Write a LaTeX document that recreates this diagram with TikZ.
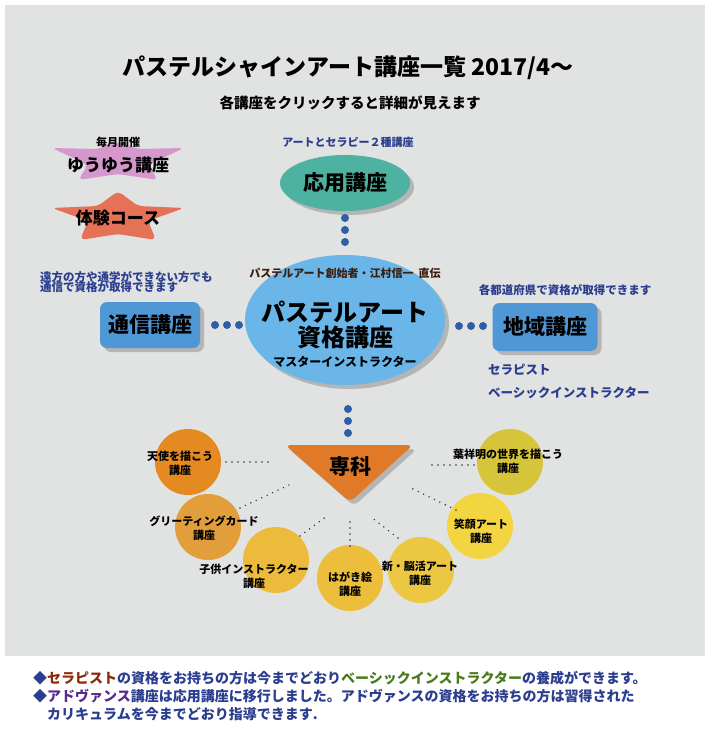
\documentclass[tikz,border=0pt]{standalone}
\usepackage{fontspec}
\setmainfont{Noto Sans CJK JP}
\usetikzlibrary{shadows,shapes.geometric}
\definecolor{bg}{HTML}{E1E2E2}
\definecolor{dotb}{HTML}{2F5DA8}
\definecolor{txtb}{HTML}{2A3D8F}
\definecolor{boxb}{HTML}{4F97D5}
\definecolor{starp}{RGB}{214,152,204}
\definecolor{staro}{RGB}{229,113,86}
\definecolor{teal}{RGB}{77,179,160}
\definecolor{mainb}{RGB}{106,182,232}
\definecolor{brn}{RGB}{60,30,15}
\definecolor{tri}{RGB}{224,122,40}
\definecolor{cA}{RGB}{229,138,32}
\definecolor{cB}{RGB}{226,158,58}
\definecolor{cC}{RGB}{237,187,60}
\definecolor{cD}{RGB}{237,190,60}
\definecolor{cE}{RGB}{235,199,66}
\definecolor{cF}{RGB}{242,213,64}
\definecolor{cG}{RGB}{214,196,58}
\definecolor{fr}{HTML}{8B2A0A}
\definecolor{fg}{HTML}{4A7A1E}
\definecolor{fp}{HTML}{5A2A8A}
\tikzset{
  fs/.style={font=\fontsize{#1}{#1}\selectfont\bfseries},
  lbl/.style={inner sep=0pt, text=black},
  blu/.style={inner sep=0pt, text=txtb, align=left},
  sh/.style={drop shadow={shadow xshift=4pt, shadow yshift=-4pt, opacity=0.45}},
  bdot/.style={fill=dotb, circle, inner sep=0pt, minimum size=8pt},
  circ/.style={circle, minimum size=66pt, inner sep=0pt, fill=#1},
  con/.style={line width=1.6pt, black!80, line cap=round, dash pattern=on 0pt off 6pt},
  box/.style={rounded corners=7pt, fill=boxb, minimum width=100pt, minimum height=46pt, sh},
  star/.style={fill=#1, rounded corners=5pt}
}
\begin{document}
\begin{tikzpicture}[x=1pt,y=-1pt]
\useasboundingbox (0,0) rectangle (708,739);
\fill[white] (0,0) rectangle (708,739);
\fill[bg] (5,5) rectangle (705,656);
% title
\node[lbl, fs=23] (title) at (348,68) {パステルシャインアート講座一覧 2017/4〜};
\node[lbl, fs=14.5] (sub) at (350,103) {各講座をクリックすると詳細が見えます};
% stars
\path[star=starp] (118,162) +(0,-20) -- +(-20,-13) -- +(-66,-14) -- +(-30,3) -- +(-40,18) -- +(0,12) -- +(40,18) -- +(30,3) -- +(66,-14) -- +(20,-13) -- cycle;
\path[star=staro] (118,215) +(0,-24) -- +(-20,-9) -- +(-66,-7) -- +(-30,6) -- +(-38,25) -- +(0,19) -- +(38,25) -- +(30,6) -- +(66,-7) -- +(20,-9) -- cycle;
\node[lbl, fs=11] (mon) at (118,142) {毎月開催};
\node[lbl, fs=17] (yuyu) at (118,165) {ゆうゆう講座};
\node[lbl, fs=17] (taiken) at (118,218) {体験コース};
% oyou
\node[ellipse, minimum width=130pt, minimum height=56pt, fill=teal, sh, fs=21, text=black] (oyou) at (345,183) {応用講座};
\node[blu, fs=11] (oyoul) at (348,142) {アートとセラピー２種講座};
\node[bdot] (d1) at (345,218) {};
\node[bdot] (d2) at (345,230) {};
\node[bdot] (d3) at (345,242) {};
% main
\node[ellipse, minimum width=200pt, minimum height=130pt, fill=mainb, sh] (main) at (345,320) {};
\node[lbl, fs=24] (m1) at (345,312) {パステルアート};
\node[lbl, fs=24] (m2) at (345,337) {資格講座};
\node[lbl, fs=12] (m3) at (345,362) {マスターインストラクター};
\node[lbl, fs=11, text=brn] (founder) at (345,273) {パステルアート創始者・江村信一\ \ 直伝};
% left
\node[box, fs=21, text=black] (tsushin) at (150,325) {通信講座};
\node[bdot] (l1) at (215,325) {};
\node[bdot] (l2) at (227,325) {};
\node[bdot] (l3) at (239,325) {};
\node[blu, fs=11.5, anchor=west, align=left] (tsl) at (40,282) {遠方の方や通学ができない方でも\\[-1pt]通信で資格が取得できます};
% right
\node[box, fs=21, text=black, minimum width=105pt, minimum height=48pt] (chiiki) at (545,327) {地域講座};
\node[bdot] (r1) at (459,326) {};
\node[bdot] (r2) at (471,326) {};
\node[bdot] (r3) at (483,326) {};
\node[blu, fs=11.5] (chl) at (565,290) {各都道府県で資格が取得できます};
\node[blu, fs=12.5, anchor=west] (ther) at (488,370) {セラピスト};
\node[blu, fs=12.5, anchor=west] (basic) at (488,393) {ベーシックインストラクター};
% bottom dots
\node[bdot] (b1) at (348,409) {};
\node[bdot] (b2) at (348,421) {};
\node[bdot] (b3) at (348,433) {};
% triangle
\fill[tri, sh, rounded corners=6pt] (285,445) -- (413,445) -- (350,502) -- cycle;
\node[lbl, fs=21] (senka) at (350,467) {専科};
% circles
\node[circ=cA] (c1) at (188,462) {};
\node[circ=cB] (c2) at (208,527) {};
\node[circ=cC] (c3) at (276,560) {};
\node[circ=cD] (c4) at (350,578) {};
\node[circ=cE] (c5) at (421,570) {};
\node[circ=cF] (c6) at (480,526) {};
\node[circ=cG] (c7) at (510,462) {};
\node[lbl, fs=11, align=center] at (180,463) {天使を描こう\\[3pt]講座};
\node[lbl, fs=11, align=center] at (204,528) {グリーティングカード\\[3pt]講座};
\node[lbl, fs=11, align=center] at (254,576) {子供インストラクター\\[3pt]講座};
\node[lbl, fs=11, align=center] at (350,584) {はがき絵\\[3pt]講座};
\node[lbl, fs=11, align=center] at (420,573) {新・脳活アート\\[3pt]講座};
\node[lbl, fs=11, align=center] at (481,531) {笑顔アート\\[3pt]講座};
\node[lbl, fs=11, align=center] at (508,461) {葉祥明の世界を描こう\\[3pt]講座};
% dotted connectors
\coordinate (t1) at (272,462); \coordinate (s1) at (226,462);
\coordinate (t2) at (289,485); \coordinate (s2) at (240,508);
\coordinate (t3) at (327,516); \coordinate (s3) at (300,536);
\coordinate (t4) at (350,516); \coordinate (s4) at (350,546);
\coordinate (t5) at (371,517); \coordinate (s5) at (398,538);
\coordinate (t6) at (409,487); \coordinate (s6) at (456,510);
\coordinate (t7) at (430,465); \coordinate (s7) at (474,465);
\foreach \i in {1,...,7} \draw[con] (s\i) -- (t\i);
% footer
\node[anchor=west, inner sep=0pt, fs=14, text=txtb] (f1) at (33,678) {◆{\color{fr}セラピスト}の資格をお持ちの方は今までどおり{\color{fg}ベーシックインストラクター}の養成ができます。};
\node[anchor=west, inner sep=0pt, fs=14, text=txtb] (f2) at (33,696) {◆{\color{fp}アドヴァンス}講座は応用講座に移行しました。アドヴァンスの資格をお持ちの方は習得された};
\node[anchor=west, inner sep=0pt, fs=14, text=txtb] (f3) at (47,714) {カリキュラムを今までどおり指導できます.};
\end{tikzpicture}
\end{document}
